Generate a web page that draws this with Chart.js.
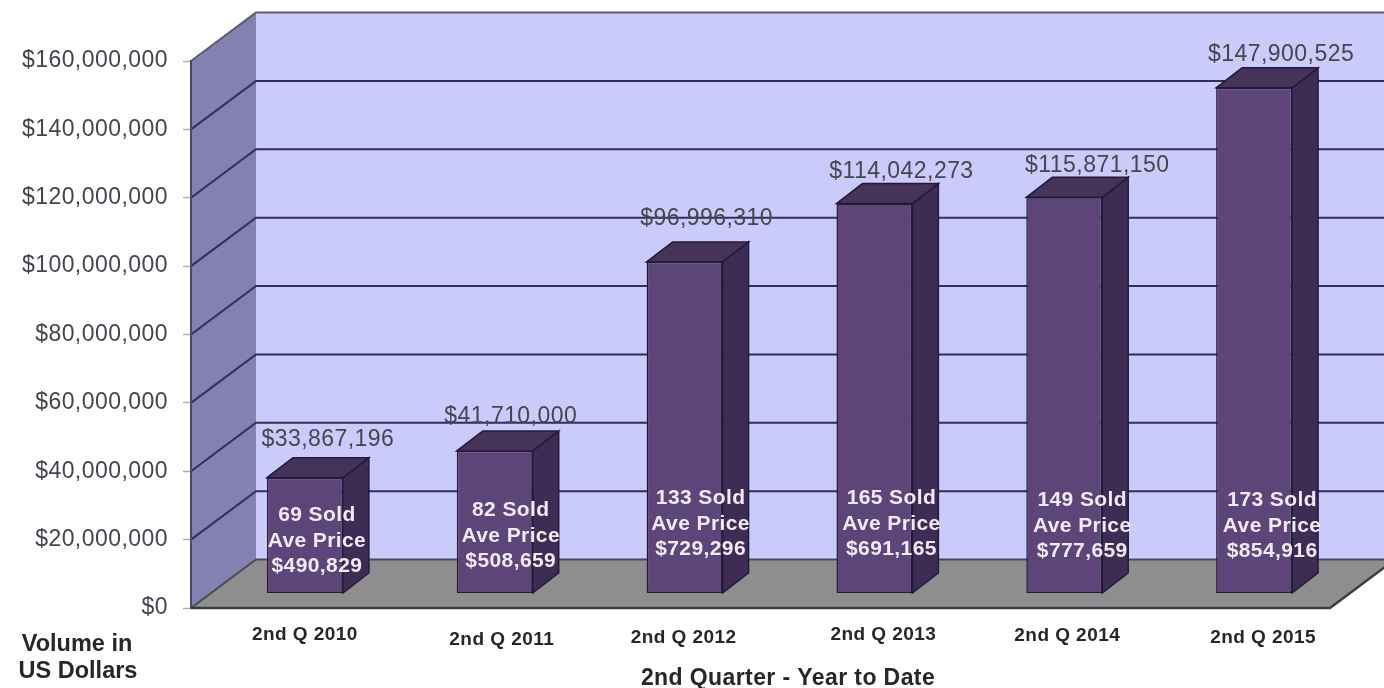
<!DOCTYPE html>
<html>
<head>
<meta charset="utf-8">
<title>2nd Quarter - Year to Date</title>
<script src="https://cdn.jsdelivr.net/npm/chart.js@4/dist/chart.umd.min.js"></script>
<style>
  html, body { margin: 0; padding: 0; background: #fff; overflow: hidden; }
  canvas { display: block; filter: blur(0.6px); }
</style>
</head>
<body>
<canvas id="volumeChart" width="1384" height="688"></canvas>
<script>
// Values
const quarters = ['2nd Q 2010', '2nd Q 2011', '2nd Q 2012', '2nd Q 2013', '2nd Q 2014', '2nd Q 2015'];
const volumes = [33867196, 41710000, 96996310, 114042273, 115871150, 147900525];
const soldCounts = [69, 82, 133, 165, 149, 173];
const avePrices = [490829, 508659, 729296, 691165, 777659, 854916];
const yTicksMax = 160000000;
const yTicksStep = 20000000;

// Fake 3D: wall depth and bar depth in px
const WALL = { dx: 65, dy: -48.5 };
const BAR = { dx: 26, dy: -20, shiftX: 19, shiftY: -14.5 };

// The original labels were placed by hand, so each one has its own nudge
const tickNudge = [[19, 0], [26, 5], [18, 3], [28, 0], [22, 1], [28, 3]];
const valueNudge = [[23, -38], [16, -34], [22, -43], [27, -32], [33, -32], [27, -33]];
const innerNudge = [[12, -52], [16, -57], [16, -69], [17, -69], [18, -67], [18, -67]];

const FONT = '"Liberation Sans", Arial, sans-serif';
const money = v => '$' + v.toLocaleString('en-US');

function poly(ctx, pts, fill, stroke, lw) {
  ctx.beginPath();
  pts.forEach((p, i) => i ? ctx.lineTo(p[0], p[1]) : ctx.moveTo(p[0], p[1]));
  ctx.closePath();
  if (fill) { ctx.fillStyle = fill; ctx.fill(); }
  if (stroke) { ctx.strokeStyle = stroke; ctx.lineWidth = lw || 1; ctx.stroke(); }
}

const box3d = {
  id: 'box3d',

  // nudge the library's x tick labels after layout
  afterLayout(chart) {
    chart.scales.x.getLabelItems().forEach((item, i) => {
      item.options.translation[0] += tickNudge[i][0];
      item.options.translation[1] += tickNudge[i][1];
    });
  },

  // ── Walls, floor and gridlines ──
  beforeDraw(chart) {
    const ctx = chart.ctx;
    const y = chart.scales.y;
    const { left, right, top, bottom } = chart.chartArea;
    const dx = WALL.dx, dy = WALL.dy;
    const farRight = right + dx;
    ctx.save();
    poly(ctx, [[left + dx, top + dy], [farRight, top + dy], [farRight, bottom + dy], [left + dx, bottom + dy]], '#cbcbfb');
    poly(ctx, [[left, top], [left + dx, top + dy], [left + dx, bottom + dy], [left, bottom]], '#8281af');
    poly(ctx, [[left, bottom], [right, bottom], [farRight, bottom + dy], [left + dx, bottom + dy]], '#8e8e8e');
    ctx.lineCap = 'round';
    y.ticks.forEach(t => {
      const py = y.getPixelForValue(t.value);
      ctx.beginPath();
      ctx.moveTo(left, py);
      ctx.lineTo(left + dx, py + dy);
      ctx.lineTo(farRight, py + dy);
      ctx.strokeStyle = t.value === 0 ? '#4a4a5e' : (t.value === yTicksMax ? '#5a5a72' : '#2f2f58');
      ctx.lineWidth = 2;
      ctx.stroke();
    });
    ctx.beginPath();
    ctx.moveTo(left, bottom);
    ctx.lineTo(right, bottom);
    ctx.lineTo(farRight, bottom + dy);
    ctx.strokeStyle = '#3c3c44';
    ctx.lineWidth = 2.5;
    ctx.stroke();
    ctx.restore();
    // carries over to the library's tick labels too
    ctx.letterSpacing = '0.45px';
  },

  // ── Bar sides, then move the front faces into the middle of the floor ──
  beforeDatasetsDraw(chart) {
    const ctx = chart.ctx;
    ctx.save();
    ctx.translate(BAR.shiftX, BAR.shiftY);
    chart.getDatasetMeta(0).data.forEach(bar => {
      const x1 = bar.x + bar.width / 2, x0 = bar.x - bar.width / 2;
      poly(ctx, [[x1, bar.y], [x1 + BAR.dx, bar.y + BAR.dy], [x1 + BAR.dx, bar.base + BAR.dy], [x1, bar.base]], '#3e2c55', '#221a3a', 1.5);
      poly(ctx, [[x0, bar.y], [x0 + BAR.dx, bar.y + BAR.dy], [x1 + BAR.dx, bar.y + BAR.dy], [x1, bar.y]], '#463359', '#221a3a', 1.5);
    });
  },

  afterDatasetsDraw(chart) {
    const ctx = chart.ctx;
    ctx.restore();
    const bars = chart.getDatasetMeta(0).data;
    ctx.save();
    ctx.textAlign = 'center';
    ctx.textBaseline = 'middle';

    // ── Values above the bars ──
    ctx.font = '23px ' + FONT;
    ctx.fillStyle = '#45454f';
    bars.forEach((bar, i) => {
      ctx.fillText(money(volumes[i]), bar.x + BAR.shiftX + valueNudge[i][0], bar.y + BAR.shiftY + valueNudge[i][1]);
    });

    // ── Text on the bars ──
    ctx.font = 'bold 21px ' + FONT;
    ctx.letterSpacing = '0.4px';
    ctx.fillStyle = '#efeaf4';
    bars.forEach((bar, i) => {
      const cx = bar.x + BAR.shiftX + innerNudge[i][0];
      const cy = bar.base + BAR.shiftY + innerNudge[i][1];
      ctx.fillText(soldCounts[i] + ' Sold', cx, cy - 25.5);
      ctx.fillText('Ave Price', cx, cy);
      ctx.fillText(money(avePrices[i]), cx, cy + 25.5);
    });

    // ── Axis captions ──
    ctx.fillStyle = '#26262c';
    ctx.font = 'bold 23px ' + FONT;
    ctx.fillText('2nd Quarter - Year to Date', 788, 679);
    ctx.font = 'bold 23.5px ' + FONT;
    ctx.letterSpacing = '0px';
    ctx.fillText('Volume in', 77, 645);
    ctx.fillText('US Dollars', 78, 672);
    ctx.restore();
  }
};

new Chart(document.getElementById('volumeChart'), {
  type: 'bar',
  data: {
    labels: quarters,
    datasets: [{
      data: volumes,
      backgroundColor: '#5e4579',
      borderColor: '#221a3a',
      borderWidth: 1.5,
      borderSkipped: false,
      barPercentage: 0.4,
      categoryPercentage: 1,
      clip: false
    }]
  },
  options: {
    responsive: false,
    animation: false,
    devicePixelRatio: 1,
    layout: { padding: { top: 61, right: 54 } },
    plugins: {
      legend: { display: false },
      title: { display: false },
      tooltip: { enabled: false }
    },
    scales: {
      x: {
        afterFit: s => { s.height = 80; },
        grid: { display: false },
        border: { display: false },
        ticks: { color: '#26262c', padding: 7, maxRotation: 0, autoSkip: false, font: { family: FONT, size: 19, weight: 'bold' } }
      },
      y: {
        min: 0,
        max: yTicksMax,
        afterFit: s => { s.width = 191; },
        grid: { drawOnChartArea: false, tickLength: 8, tickColor: '#b0b0b0', tickWidth: 1.5 },
        border: { color: '#4a4a66', width: 2 },
        ticks: {
          stepSize: yTicksStep,
          color: '#45454f',
          padding: 15,
          font: { family: FONT, size: 23 },
          callback: v => money(v)
        }
      }
    }
  },
  plugins: [box3d]
});
</script>
</body>
</html>
